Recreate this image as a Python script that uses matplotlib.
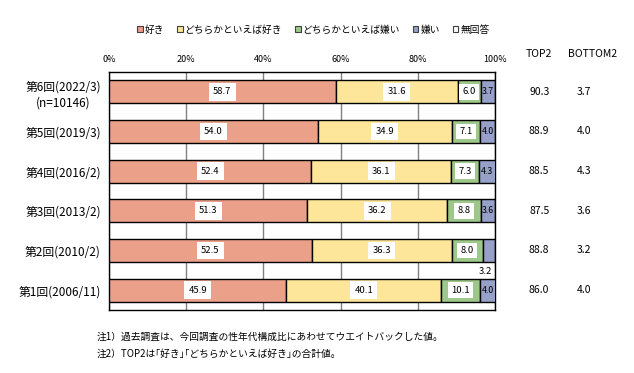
import matplotlib
matplotlib.use("Agg")
import matplotlib.pyplot as plt
from matplotlib.patches import Patch
import numpy as np

plt.rcParams['font.family'] = ['Noto Sans CJK JP', 'DejaVu Sans']

categories = ['第6回(2022/3)\n(n=10146)', '第5回(2019/3)', '第4回(2016/2)',
              '第3回(2013/2)', '第2回(2010/2)', '第1回(2006/11)']
like = [58.7, 54.0, 52.4, 51.3, 52.5, 45.9]
rather_like = [31.6, 34.9, 36.1, 36.2, 36.3, 40.1]
rather_dislike = [6.0, 7.1, 7.3, 8.8, 8.0, 10.1]
dislike = [3.7, 4.0, 4.3, 3.6, 3.2, 4.0]
no_answer = [0.0, 0.0, 0.0, 0.0, 0.0, 0.0]
top2 = [90.3, 88.9, 88.5, 87.5, 88.8, 86.0]
bottom2 = [3.7, 4.0, 4.3, 3.6, 3.2, 4.0]
series_names = ['好き', 'どちらかといえば好き', 'どちらかといえば嫌い', '嫌い', '無回答']
xtick_labels = ['0%', '20%', '40%', '60%', '80%', '100%']
notes = ['注1）過去調査は、今回調査の性年代構成比にあわせてウエイトバックした値。',
         '注2）TOP2は｢好き｣｢どちらかといえば好き｣の合計値。']

colors = ['#EBA08A', '#FDE699', '#9DC88A', '#96A0C8', '#FFFFFF']

fig = plt.figure(figsize=(6.34, 3.73), dpi=100)
ax = fig.add_axes([0.172, 0.169, 0.609, 0.638])

y = np.arange(len(categories))
h = 0.58
left = np.zeros(len(categories))
series = [like, rather_like, rather_dislike, dislike, no_answer]
for vals, c in zip(series, colors):
    ax.barh(y, vals, left=left, height=h, color=c, edgecolor='black', linewidth=1.0, zorder=3)
    left = left + np.array(vals)

# labels
for i in range(len(categories)):
    cx = like[i] / 2
    ax.text(cx, y[i], f'{like[i]:.1f}', ha='center', va='center', fontsize=6.8, zorder=5,
            bbox=dict(boxstyle='square,pad=0.45', fc='white', ec='none'))
    cx = like[i] + rather_like[i] / 2
    ax.text(cx, y[i], f'{rather_like[i]:.1f}', ha='center', va='center', fontsize=6.8, zorder=5,
            bbox=dict(boxstyle='square,pad=0.45', fc='white', ec='none'))
    cx = like[i] + rather_like[i] + rather_dislike[i] / 2
    ax.text(cx, y[i], f'{rather_dislike[i]:.1f}', ha='center', va='center', fontsize=6.8, zorder=5,
            bbox=dict(boxstyle='square,pad=0.35', fc='white', ec='none'))
    cx = like[i] + rather_like[i] + rather_dislike[i] + dislike[i] / 2
    if dislike[i] < 3.5:
        ax.text(97.5, y[i] + 0.52, f'{dislike[i]:.1f}', ha='center', va='center', fontsize=6.8, zorder=5)
    else:
        ax.text(cx, y[i], f'{dislike[i]:.1f}', ha='center', va='center', fontsize=6.3, zorder=5)
    ax.text(111.4, y[i], f'{top2[i]:.1f}', ha='center', va='center', fontsize=7.5, clip_on=False)
    ax.text(123.1, y[i], f'{bottom2[i]:.1f}', ha='center', va='center', fontsize=7.5, clip_on=False)

ax.text(111.3, -0.95, 'TOP2', ha='center', va='center', fontsize=7.5, clip_on=False)
ax.text(125.1, -0.95, 'BOTTOM2', ha='center', va='center', fontsize=7.5, clip_on=False)

ax.set_xlim(0, 100)
ax.set_ylim(len(categories) - 0.5, -0.5)
ax.set_xticks([0, 20, 40, 60, 80, 100])
ax.set_xticklabels(xtick_labels, fontsize=6.5)
ax.xaxis.tick_top()
ax.tick_params(axis='x', length=0, pad=6)
ax.set_yticks(y)
ax.set_yticklabels(categories, fontsize=8.5, linespacing=1.3, multialignment='center')
ax.tick_params(axis='y', length=0, pad=6)
ax.grid(axis='x', color='#808080', linewidth=1.0, zorder=0)
for s in ax.spines.values():
    s.set_color('black')
    s.set_linewidth(1.0)

handles = [Patch(facecolor=c, edgecolor='#404040', linewidth=0.8) for c in colors]
fig.legend(handles, series_names, loc='center', bbox_to_anchor=(0.494, 0.92), ncol=5,
           frameon=False, fontsize=7, handlelength=0.6, handleheight=0.6,
           handletextpad=0.2, columnspacing=1.3)

fig.text(97 / 634, 1 - 337 / 373, notes[0], fontsize=7, va='center', ha='left')
fig.text(97 / 634, 1 - 354 / 373, notes[1], fontsize=7, va='center', ha='left')

fig.savefig('out.png', dpi=100)
